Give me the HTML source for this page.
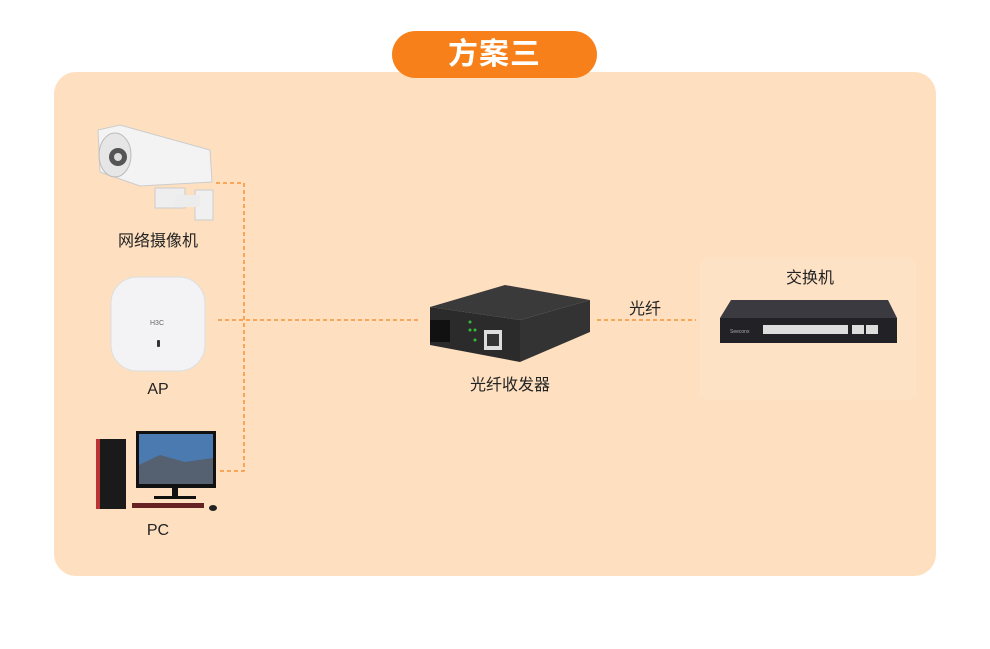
<!DOCTYPE html>
<html><head><meta charset="utf-8"><style>
body{margin:0;width:990px;height:649px;background:#fff;position:relative;overflow:hidden;font-family:"Liberation Sans","Noto Sans CJK SC",sans-serif}
.a{position:absolute}
.lbl{position:absolute;font-size:16px;color:#222;text-align:center;white-space:nowrap}
</style></head><body>
<div class="a" style="left:54px;top:72px;width:882px;height:504px;background:#fee0c1;border-radius:22px"></div>
<div class="a" style="left:392px;top:31px;width:205px;height:47px;background:#f7801a;border-radius:24px;color:#fff;font-size:30px;font-weight:bold;text-align:center;line-height:47px;letter-spacing:1px">方案三</div>
<div class="a" style="left:700px;top:258px;width:216px;height:142px;background:#fee2c5;border-radius:8px"></div>
<svg class="a" style="left:0;top:0" width="990" height="649">
<g stroke="#f7841d" stroke-width="1.3" stroke-dasharray="4,3" fill="none">
<path d="M216 183H244V471H218"/><path d="M218 320H418"/><path d="M597 320H696"/>
</g>
<g>
<path d="M98 130 L120 125 L210 150 L212 182 L140 186 L100 172 Z" fill="#f3f3f3" stroke="#ccc"/>
<ellipse cx="115" cy="155" rx="16" ry="22" fill="#e6e6e6" stroke="#bbb"/>
<circle cx="118" cy="157" r="9" fill="#555"/><circle cx="118" cy="157" r="4" fill="#ddd"/>
<rect x="155" y="188" width="30" height="20" fill="#eee" stroke="#ccc"/>
<rect x="195" y="190" width="18" height="30" fill="#f0f0f0" stroke="#ccc"/>
<rect x="175" y="195" width="25" height="12" fill="#ececec"/>
</g>
<rect x="111" y="277" width="94" height="94" rx="26" fill="#f3f3f5" stroke="#ddd"/>
<text x="150" y="325" font-size="7" fill="#666" font-family="Liberation Sans">H3C</text>
<rect x="157" y="340" width="3" height="7" rx="1" fill="#333"/>
<rect x="96" y="439" width="30" height="70" fill="#1a1a1a"/><rect x="96" y="439" width="4" height="70" fill="#b33"/>
<rect x="136" y="431" width="80" height="57" fill="#111"/>
<rect x="139" y="434" width="74" height="50" fill="#4a7ab0"/>
<path d="M139 465 L160 455 L185 462 L213 458 L213 484 L139 484Z" fill="#556070"/>
<rect x="172" y="488" width="6" height="8" fill="#111"/><rect x="154" y="496" width="42" height="3" fill="#111"/>
<rect x="132" y="503" width="72" height="5" fill="#622"/><ellipse cx="213" cy="508" rx="4" ry="3" fill="#222"/>
<path d="M430 307 L505 285 L590 300 L520 320 Z" fill="#3a3a3a"/>
<path d="M430 307 L520 320 L520 362 L430 345 Z" fill="#2b2b2b"/>
<path d="M520 320 L590 300 L590 332 L520 362 Z" fill="#333"/>
<rect x="430" y="320" width="20" height="22" fill="#111"/>
<rect x="484" y="330" width="18" height="20" fill="#ddd"/><rect x="487" y="334" width="12" height="12" fill="#333"/>
<g fill="#3b3"><circle cx="470" cy="322" r="1.5"/><circle cx="470" cy="330" r="1.5"/><circle cx="475" cy="330" r="1.5"/><circle cx="475" cy="340" r="1.5"/></g>
<path d="M731 300 L888 300 L897 318 L720 318 Z" fill="#3a3a40"/>
<rect x="720" y="318" width="177" height="25" fill="#222226"/>
<g fill="#ddd"><rect x="763" y="325" width="85" height="9"/><rect x="852" y="325" width="12" height="9"/><rect x="866" y="325" width="12" height="9"/></g>
<text x="730" y="333" font-size="5" fill="#aaa" font-family="Liberation Sans">Seeconx</text>
</svg>
<div class="lbl" style="left:110px;top:227px;width:96px">网络摄像机</div>
<div class="lbl" style="left:130px;top:381px;width:56px">AP</div>
<div class="lbl" style="left:130px;top:522px;width:56px">PC</div>
<div class="lbl" style="left:460px;top:371px;width:100px">光纤收发器</div>
<div class="lbl" style="left:610px;top:295px;width:70px">光纤</div>
<div class="lbl" style="left:770px;top:264px;width:80px">交换机</div>
</body></html>
